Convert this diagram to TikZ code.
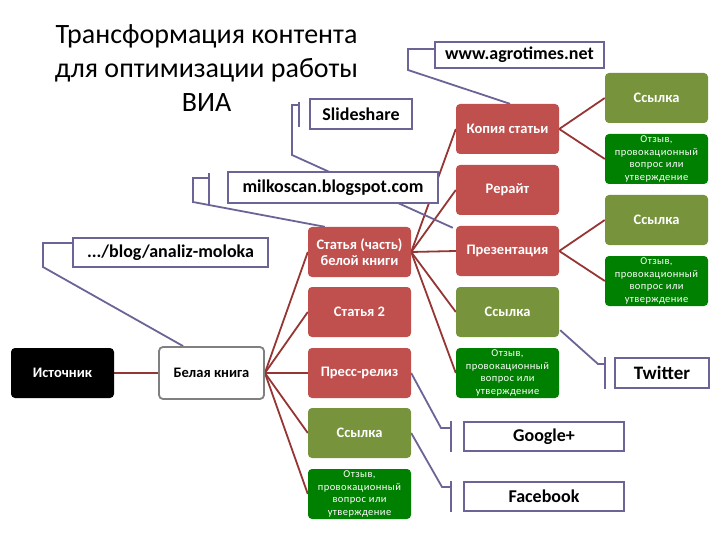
\documentclass[tikz,border=0pt]{standalone}
\usepackage{fontspec}
\setmainfont{Carlito}
\usetikzlibrary{backgrounds,calc}

\definecolor{boxred}{RGB}{192,80,77}
\definecolor{boxolive}{RGB}{119,147,60}
\definecolor{boxgreen}{RGB}{0,128,0}
\definecolor{conred}{RGB}{150,54,52}
\definecolor{leadcol}{RGB}{108,100,150}
\definecolor{wgray}{RGB}{128,128,128}

\begin{document}
\begin{tikzpicture}[x=1pt,y=-1pt,
  basebox/.style={rounded corners=4pt, minimum width=103pt, minimum height=50pt, inner sep=1pt, align=center, text=white, font=\fontsize{14.5}{16}\selectfont\bfseries},
  redbox/.style={basebox, fill=boxred},
  olivebox/.style={basebox, fill=boxolive},
  greenbox/.style={basebox, fill=boxgreen, font=\fontsize{10.5}{12.7}\selectfont\addfontfeature{LetterSpace=4}},
  callout/.style={draw=leadcol, line width=1.5pt, fill=white, inner sep=0pt, text=black, font=\fontsize{18}{20}\selectfont\bfseries},
  conn/.style={draw=conred, line width=1.8pt},
  leadline/.style={draw=leadcol, line width=1.8pt},
  accbar/.style={draw=leadcol, line width=1.8pt}
]
\useasboundingbox (0,0) rectangle (720,540);

% title
\node[align=center, anchor=north, inner sep=0pt, font=\fontsize{28}{34}\selectfont] (title) at (206.5,24)
  {Трансформация контента\\для оптимизации работы\\ВИА};

% main nodes
\node[basebox, fill=black] (ist) at (62.5,373) {Источник};
\node[basebox, fill=white, draw=wgray, line width=1.8pt, text=black, minimum width=105pt, minimum height=52pt] (bk) at (211.5,373) {Белая книга};

\node[redbox] (stch) at (359.5,252) {Статья (часть)\\белой книги};
\node[redbox] (st2) at (359.5,312) {Статья 2};
\node[redbox] (press) at (359.5,373) {Пресс-релиз};
\node[olivebox] (ssyl2) at (359.5,433) {Ссылка};
\node[greenbox] (otz2) at (359.5,494) {Отзыв,\\провокационный\\вопрос или\\утверждение};

\node[redbox] (kop) at (507.5,129) {Копия статьи};
\node[redbox] (rer) at (507.5,190) {Рерайт};
\node[redbox] (pres) at (507.5,251) {Презентация};
\node[olivebox] (ssyl3) at (507.5,312) {Ссылка};
\node[greenbox] (otz3) at (507.5,373) {Отзыв,\\провокационный\\вопрос или\\утверждение};

\node[olivebox] (s4a) at (656.5,98) {Ссылка};
\node[greenbox] (o4a) at (656.5,159) {Отзыв,\\провокационный\\вопрос или\\утверждение};
\node[olivebox] (s4b) at (656.5,220) {Ссылка};
\node[greenbox] (o4b) at (656.5,281) {Отзыв,\\провокационный\\вопрос или\\утверждение};

% callouts
\node[callout, minimum width=169pt, minimum height=26pt] (agro) at (519.5,55) {www.agrotimes.net};
\node[callout, minimum width=102pt, minimum height=30pt] (slide) at (361,114) {Slideshare};
\node[callout, minimum width=210pt, minimum height=31pt] (milk) at (333,187.5) {milkoscan.blogspot.com};
\node[callout, minimum width=195pt, minimum height=29pt] (blog) at (170.5,252.5) {.../blog/analiz-moloka};
\node[callout, minimum width=94pt, minimum height=30pt, font=\fontsize{19}{20}\selectfont\bfseries] (tw) at (662,373) {Twitter};
\node[callout, minimum width=160pt, minimum height=29pt] (gp) at (544,436.5) {Google+};
\node[callout, minimum width=160pt, minimum height=29pt] (fb) at (544,496.5) {Facebook};

% accent bars
\draw[accbar] ($(slide.north west)+(-10,4)$) -- ($(slide.south west)+(-10,-3)$);
\draw[accbar] ($(milk.north west)+(-18,2)$) -- ($(milk.south west)+(-18,0)$);
\draw[accbar] ($(tw.north west)+(-9,0)$) -- ($(tw.south west)+(-9,0)$);
\draw[accbar] ($(gp.north west)+(-12,0)$) -- ($(gp.south west)+(-12,0)$);
\draw[accbar] ($(fb.north west)+(-12,0)$) -- ($(fb.south west)+(-12,0)$);

% bend points of leaders
\coordinate (ag1) at (408,49);  \coordinate (ag2) at (408,70);
\coordinate (sl1) at (292,105); \coordinate (sl2) at (292,155);
\coordinate (mk1) at (193,178); \coordinate (mk2) at (193,202);
\coordinate (bl1) at (43,243);  \coordinate (bl2) at (43,267);
\coordinate (tw1) at (598,364);
\coordinate (gp1) at (441,428);
\coordinate (fb1) at (442,487);

\begin{scope}[on background layer]
  \fill[white] (0,0) rectangle (720,540);
  % red connectors
  \draw[conn] (ist.east) -- (bk.west);
  \foreach \t in {stch,st2,press,ssyl2,otz2} \draw[conn] (bk.east) -- (\t.west);
  \foreach \t in {kop,rer,pres,ssyl3,otz3} \draw[conn] (stch.east) -- (\t.west);
  \draw[conn] (kop.east) -- (s4a.west);
  \draw[conn] (kop.east) -- (o4a.west);
  \draw[conn] (pres.east) -- (s4b.west);
  \draw[conn] (pres.east) -- (o4b.west);
  % leaders
  \draw[leadline] (agro.west |- ag1) -- (ag1) -- (ag2) -- ($(kop.north)+(2.5,0)$);
  \draw[leadline] ($(slide.west |- sl1)+(-10,0)$) -- (sl1) -- (sl2) -- ($(pres.north west)+(-3,2)$);
  \draw[leadline] ($(milk.west |- mk1)+(-18,0)$) -- (mk1) -- (mk2) -- ($(stch.north west)+(17,0)$);
  \draw[leadline] (blog.west |- bl1) -- (bl1) -- (bl2) -- ($(bk.north west)+(25,0)$);
  \draw[leadline] ($(tw.west |- tw1)+(-9,0)$) -- (tw1) -- ($(ssyl3.south east)+(1,-7)$);
  \draw[leadline] ($(gp.west |- gp1)+(-12,0)$) -- (gp1) -- (press.east);
  \draw[leadline] ($(fb.west |- fb1)+(-12,0)$) -- (fb1) -- (ssyl2.east);
\end{scope}
\end{tikzpicture}
\end{document}
